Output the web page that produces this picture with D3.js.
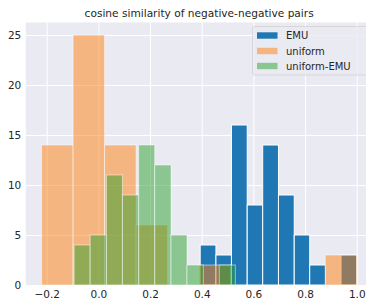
<!DOCTYPE html>
<html>
<head>
<meta charset="utf-8">
<script src="https://cdn.jsdelivr.net/npm/d3@7"></script>
<style>
  html, body { margin: 0; padding: 0; background: #ffffff; }
  svg { display: block; }
  text { font-family: "DejaVu Sans", sans-serif; fill: #262626; }
</style>
</head>
<body>
<div id="chart"></div>
<script>
// ---- data ----
const title = "cosine similarity of negative-negative pairs";
const seriesNames = ["EMU", "uniform", "uniform-EMU"];
const seriesColors = ["#1f77b4", "#ff7f0e", "#2ca02c"];
const seriesAlpha = [1, 0.5, 0.5];

const emuEdges = [0.394, 0.455, 0.515, 0.576, 0.636, 0.697, 0.758, 0.818, 0.879, 0.939, 1.0];
const emuCounts = [4, 3, 16, 8, 14, 9, 5, 2, 0, 3];

const uniformEdges = [-0.22, -0.098, 0.024, 0.146, 0.268, 0.39, 0.512, 0.634, 0.756, 0.878, 1.0];
const uniformCounts = [14, 25, 14, 6, 0, 2, 0, 0, 0, 3];

const uniformEmuEdges = [-0.094, -0.032, 0.031, 0.093, 0.156, 0.218, 0.281, 0.343, 0.406, 0.468, 0.530];
const uniformEmuCounts = [4, 5, 11, 9, 14, 12, 5, 2, 0, 2];

const xTicks = [-0.2, 0.0, 0.2, 0.4, 0.6, 0.8, 1.0];
const yTicks = [0, 5, 10, 15, 20, 25];
const xDomain = [-0.281, 1.061];
const yDomain = [0, 26.25];

// ---- layout ----
const W = 366, H = 300;
const plot = { left: 25.8, right: 372.5, top: 22.5, bottom: 285 };

const svg = d3.select("#chart").append("svg")
  .attr("width", W).attr("height", H);

const x = d3.scaleLinear().domain(xDomain).range([plot.left, plot.right]);
const y = d3.scaleLinear().domain(yDomain).range([plot.bottom, plot.top]);

// background
svg.append("rect")
  .attr("x", plot.left).attr("y", plot.top)
  .attr("width", plot.right - plot.left).attr("height", plot.bottom - plot.top)
  .attr("fill", "#EAEAF2");

// grid via axes
const xGrid = d3.axisBottom(x).tickValues(xTicks).tickSize(-(plot.bottom - plot.top)).tickFormat("");
const gx = svg.append("g").attr("transform", `translate(0,${plot.bottom})`).call(xGrid);
gx.select(".domain").remove();
gx.selectAll("line").attr("stroke", "#ffffff").attr("stroke-width", 1);

const yGrid = d3.axisLeft(y).tickValues(yTicks).tickSize(-(plot.right - plot.left)).tickFormat("");
const gy = svg.append("g").attr("transform", `translate(${plot.left},0)`).call(yGrid);
gy.select(".domain").remove();
gy.selectAll("line").attr("stroke", "#ffffff").attr("stroke-width", 1);

// tick labels via axes
const fmtX = v => d3.format(".1f")(v).replace("-", "\u2212");
const xAxis = d3.axisBottom(x).tickValues(xTicks).tickSize(0).tickPadding(0).tickFormat(fmtX);
const ax = svg.append("g").attr("transform", `translate(0,${plot.bottom})`).call(xAxis);
ax.select(".domain").remove();
ax.selectAll("text")
  .attr("y", 12.5).attr("dy", null)
  .style("font-family", "DejaVu Sans").style("font-size", "10.5px").attr("fill", "#262626");

const yAxis = d3.axisLeft(y).tickValues(yTicks).tickSize(0).tickPadding(0).tickFormat(d3.format("d"));
const ay = svg.append("g").attr("transform", `translate(${plot.left},0)`).call(yAxis);
ay.select(".domain").remove();
ay.selectAll("text")
  .attr("x", -4.5).attr("dy", "0.35em")
  .style("font-family", "DejaVu Sans").style("font-size", "10.5px").attr("fill", "#262626");

// bars
const series = [
  { edges: emuEdges, counts: emuCounts },
  { edges: uniformEdges, counts: uniformCounts },
  { edges: uniformEmuEdges, counts: uniformEmuCounts }
];
const clip = svg.append("clipPath").attr("id", "plotclip").append("rect")
  .attr("x", plot.left).attr("y", plot.top)
  .attr("width", plot.right - plot.left).attr("height", plot.bottom - plot.top);
const barsG = svg.append("g").attr("clip-path", "url(#plotclip)");
series.forEach((s, i) => {
  const bins = s.counts.map((c, k) => ({ x0: s.edges[k], x1: s.edges[k + 1], c }));
  barsG.append("g").selectAll("rect").data(bins.filter(b => b.c > 0)).join("rect")
    .attr("x", b => x(b.x0))
    .attr("width", b => x(b.x1) - x(b.x0))
    .attr("y", b => y(b.c))
    .attr("height", b => y(0) - y(b.c))
    .attr("fill", seriesColors[i])
    .attr("fill-opacity", seriesAlpha[i])
    .attr("stroke", "#ffffff")
    .attr("stroke-opacity", seriesAlpha[i])
    .attr("stroke-width", 1);
});

// title
svg.append("text")
  .attr("x", (plot.left + plot.right) / 2).attr("y", 17.3)
  .attr("text-anchor", "middle")
  .style("font-size", "10.6px")
  .text(title);

// legend
const lg = svg.append("g");
lg.append("rect")
  .attr("x", 252.5).attr("y", 26.5).attr("width", 115).attr("height", 48.5)
  .attr("rx", 2).attr("ry", 2)
  .attr("fill", "#EAEAF2").attr("fill-opacity", 0.8)
  .attr("stroke", "#cccccc").attr("stroke-opacity", 0.8).attr("stroke-width", 0.8);
const rowY = [35.5, 51, 66];
seriesNames.forEach((name, i) => {
  lg.append("rect")
    .attr("x", 257).attr("y", rowY[i] - 3.2).attr("width", 20.5).attr("height", 6.4)
    .attr("fill", seriesColors[i]).attr("fill-opacity", seriesAlpha[i]);
  lg.append("text")
    .attr("x", 286).attr("y", rowY[i]).attr("dy", "0.35em")
    .style("font-size", "10px")
    .text(name);
});
</script>
</body>
</html>
